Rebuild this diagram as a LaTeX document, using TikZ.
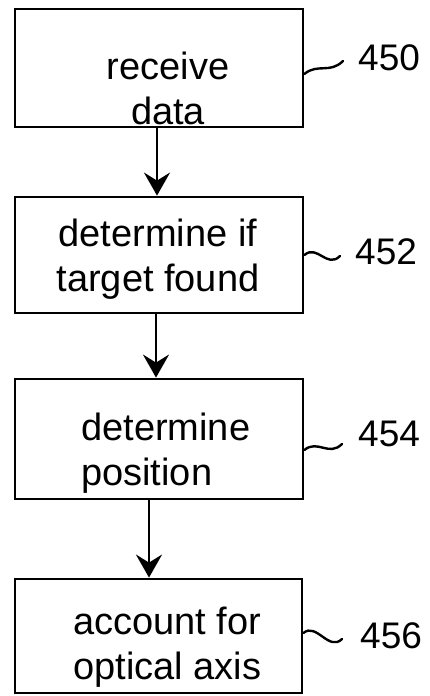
\documentclass[tikz,border=0pt]{standalone}
\usepackage{fontspec}
\setmainfont{Liberation Sans}
\usepackage{tikz}
\usetikzlibrary{arrows.meta}
\tikzstyle{Box}=[rectangle,draw=black,line width=2.8pt,inner sep=0pt]
\tikzstyle{Text}=[inner sep=0pt,font=\fontsize{38}{45}\selectfont]
\tikzstyle{Ref}=[inner sep=0pt,anchor=west,font=\fontsize{37}{45}\selectfont]
\tikzstyle{Edge}=[draw=black,line width=2.8pt,
    -{Stealth[length=23pt,width=26pt,inset=8pt]}]
\tikzstyle{Wave}=[draw=black,line width=2.4pt,line cap=round]

\begin{document}
\begin{tikzpicture}[x=1pt,y=-1pt]
        \useasboundingbox(0,0)rectangle(430,696);
        \node[Box,minimum width=288pt,minimum height=118pt](450)at(159,68){};
        \node[Box,minimum width=288pt,minimum height=116pt](452)at(159,255){};
        \node[Box,minimum width=288pt,minimum height=120pt](454)at(159,439){};
        \node[Box,minimum width=287pt,minimum height=114pt](456)at(158.5,636){};
        \node[Text,align=center](t450)at(168,88){receive\\data};
        \node[Text,align=center](t452)at(158,259){determine if\\target found};
        \node[Text,align=left,anchor=west](t454)at(81,453)
            {determine\\position};
        \node[Text,align=left,anchor=west](t456)at(73,647)
            {account for\\optical axis};
        \node[Ref](r450)at(358,58){450};
        \node[Ref](r452)at(355,252){452};
        \node[Ref](r454)at(358,434){454};
        \node[Ref](r456)at(360,636){456};
        \draw[Edge]([xshift=-2pt]450.south)--([xshift=-2pt]452.north);
        \draw[Edge]([xshift=-3pt]452.south)--([xshift=-3pt]454.north);
        \draw[Edge]([xshift=-10pt]454.south)--([xshift=-9.5pt]456.north);
        \draw[Wave]([yshift=-6pt]450.east)..controls +(13,-11) and +(-13,13)
            ..([xshift=-15pt,yshift=-3pt]r450.west);
        \draw[Wave]([yshift=0pt]452.east)..controls +(13,-11) and +(-13,13)
            ..([xshift=-15pt,yshift=-4pt]r452.west);
        \draw[Wave]([yshift=-11pt]454.east)..controls +(13,-11) and +(-13,13)
            ..([xshift=-16pt,yshift=-10pt]r454.west);
        \draw[Wave]([yshift=3pt]456.east)..controls +(13,-11) and +(-13,13)
            ..([xshift=-18pt,yshift=-3pt]r456.west);
    \end{tikzpicture}
\end{document}
